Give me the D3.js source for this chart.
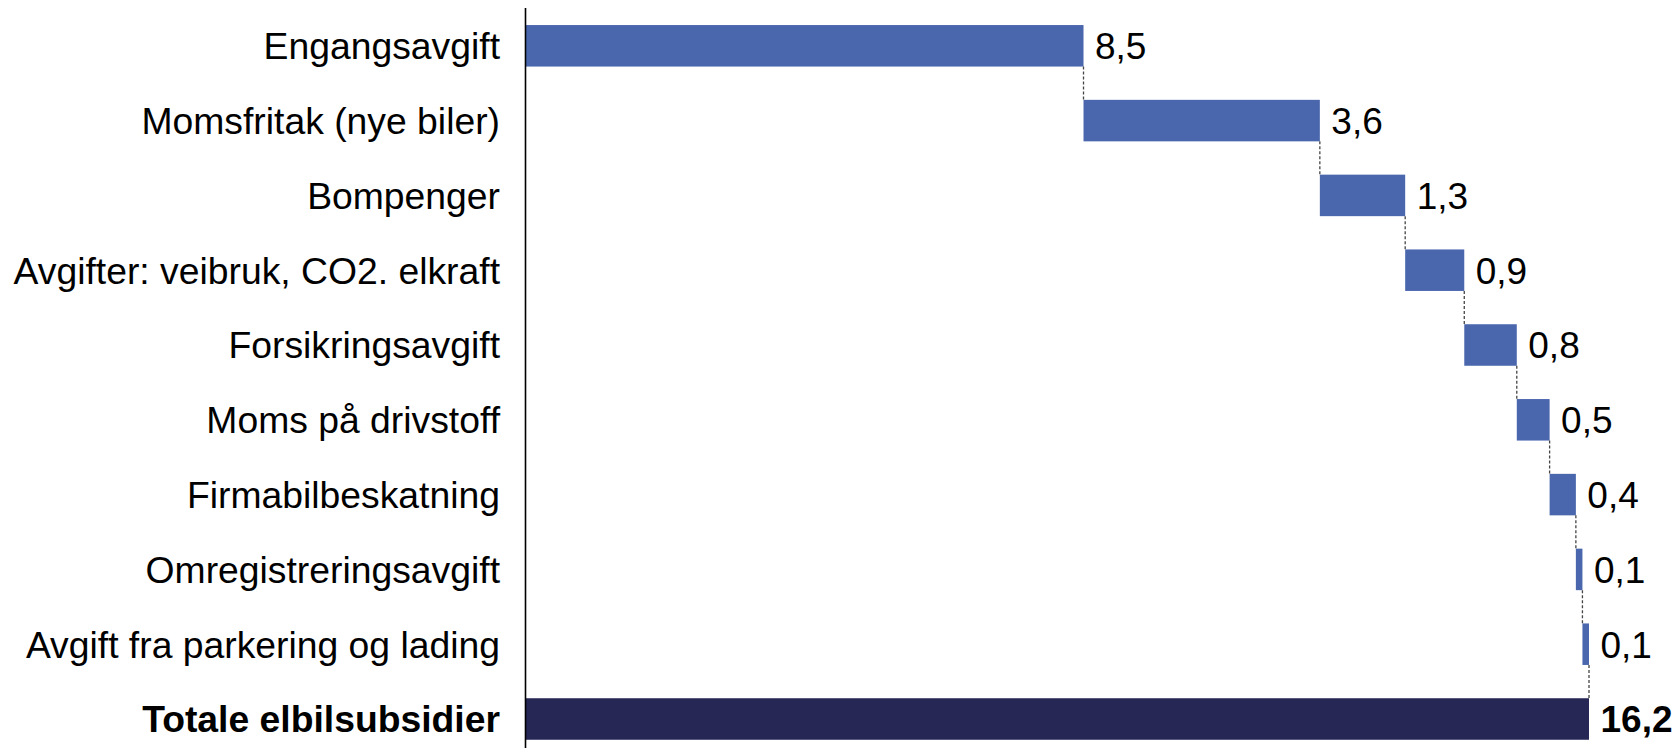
<!DOCTYPE html>
<html>
<head>
<meta charset="utf-8">
<script src="https://cdn.jsdelivr.net/npm/d3@7"></script>
<style>
  html, body { margin: 0; padding: 0; background: #ffffff; }
  svg { display: block; }
  text { font-family: "Liberation Sans", Arial, sans-serif; fill: #000; }
</style>
</head>
<body>
<svg id="chart" width="1677" height="748"></svg>
<script>
// Components of the electric-car subsidy (billion NOK), in waterfall order
const categories = [
  "Engangsavgift",
  "Momsfritak (nye biler)",
  "Bompenger",
  "Avgifter: veibruk, CO2. elkraft",
  "Forsikringsavgift",
  "Moms på drivstoff",
  "Firmabilbeskatning",
  "Omregistreringsavgift",
  "Avgift fra parkering og lading"
];
const values = [8.5, 3.6, 1.3, 0.9, 0.8, 0.5, 0.4, 0.1, 0.1];
const totalLabel = "Totale elbilsubsidier";
const totalValue = 16.2;

const fmt = v => d3.format(".1f")(v).replace(".", ",");

// Build waterfall steps: each bar starts where the previous one ended
let running = 0;
const rows = categories.map((c, i) => {
  const start = running;
  running += values[i];
  return { name: c, value: values[i], start: start, end: running, total: false };
});
rows.push({ name: totalLabel, value: totalValue, start: 0, end: totalValue, total: true });

const svg = d3.select("#chart");
const axisX = 525.5;

const x = d3.scaleLinear().domain([0, totalValue]).range([axisX, 1589]);
const y = d3.scaleBand()
  .domain(rows.map(d => d.name))
  .range([8.4, 756.4])
  .paddingInner(0.445)
  .paddingOuter(0.2225);

// Bars
svg.append("g").selectAll("rect")
  .data(rows)
  .join("rect")
  .attr("x", d => x(d.start))
  .attr("y", d => y(d.name))
  .attr("width", d => x(d.end) - x(d.start))
  .attr("height", y.bandwidth())
  .attr("fill", d => d.total ? "#262755" : "#4a67ad");

// Dashed connectors between consecutive bars
const links = rows.slice(0, -1).map((d, i) => ({ from: d, to: rows[i + 1] }));
svg.append("g").selectAll("line")
  .data(links)
  .join("line")
  .attr("x1", d => x(d.from.end))
  .attr("x2", d => x(d.from.end))
  .attr("y1", d => y(d.from.name) + y.bandwidth())
  .attr("y2", d => y(d.to.name))
  .attr("stroke", "#444")
  .attr("stroke-width", 1.3)
  .attr("stroke-dasharray", "3,2");

// Category labels on the left
svg.append("g").selectAll("text")
  .data(rows)
  .join("text")
  .attr("x", 500)
  .attr("y", d => y(d.name) + y.bandwidth() / 2)
  .attr("dy", "0.36em")
  .attr("text-anchor", "end")
  .attr("font-size", 37.3)
  .attr("font-weight", d => d.total ? "bold" : "normal")
  .text(d => d.name);

// Value labels at the end of each bar
svg.append("g").selectAll("text")
  .data(rows)
  .join("text")
  .attr("x", d => x(d.end) + 11.5)
  .attr("y", d => y(d.name) + y.bandwidth() / 2)
  .attr("dy", "0.36em")
  .attr("font-size", 37)
  .attr("font-weight", d => d.total ? "bold" : "normal")
  .text(d => fmt(d.value));

// Vertical category axis line
svg.append("line")
  .attr("x1", axisX).attr("x2", axisX)
  .attr("y1", 8).attr("y2", 748)
  .attr("stroke", "#000")
  .attr("stroke-width", 1.6);
</script>
</body>
</html>
